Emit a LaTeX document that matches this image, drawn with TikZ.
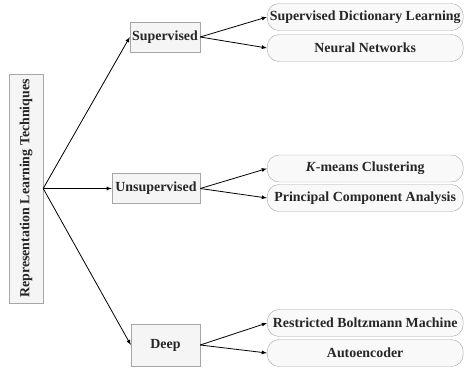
\documentclass[tikz,border=0pt]{standalone}
\usepackage{fontspec}
\setmainfont{Liberation Serif}
\usetikzlibrary{positioning,arrows.meta}
\tikzset{
	every picture/.style={
		>=latex
}}
\begin{document}
\begin{tikzpicture}[x=1pt,y=-1pt]
\tikzstyle{root}=[rectangle, rotate=90, draw=gray!70, fill=gray!8, minimum width=229pt, minimum height=34pt, inner sep=0pt, text=black!85, font=\fontsize{13.9}{16}\selectfont\bfseries]
\tikzstyle{cat}=[rectangle, draw=gray!70, fill=gray!8, minimum height=30pt, inner sep=1pt, text=black!85, font=\fontsize{13.9}{16}\selectfont\bfseries]
\tikzstyle{leaf}=[rectangle, rounded corners=12pt, draw=gray!70, fill=gray!5, minimum width=196pt, minimum height=27pt, inner sep=0pt, anchor=west, text=black!85, font=\fontsize{13.9}{16}\selectfont\bfseries]
\tikzstyle{connect}=[->, line width=0.8pt]
\useasboundingbox (0,0) rectangle (464,368);
\node[root] (rlt) at (26,188.5) {Representation Learning Techniques};
\node[cat, minimum width=70pt] (sup) at (165,37) {Supervised};
\node[cat, minimum width=88pt] (uns) at (156,188.5) {Unsupervised};
\node[cat, minimum width=69pt, minimum height=42pt] (deep) at (165.5,345) {Deep};
\node[leaf] (sdl) at (267,17) {Supervised Dictionary Learning};
\node[leaf] (nn) at (267,48) {Neural Networks};
\node[leaf] (km) at (267,168.5) {\textit{K}-means Clustering};
\node[leaf] (pca) at (267,198) {Principal Component Analysis};
\node[leaf] (rbm) at (267,323) {Restricted Boltzmann Machine};
\node[leaf] (ae) at (267,353) {Autoencoder};
\path (rlt.south) edge [connect] (sup.west)
(rlt.south) edge [connect] (uns.west)
(rlt.south) edge [connect] (deep.west);
\path (sup.east) edge [connect] (sdl.west)
(sup.east) edge [connect] (nn.west)
(uns.east) edge [connect] (km.west)
(uns.east) edge [connect] (pca.west)
(deep.east) edge [connect] (rbm.west)
(deep.east) edge [connect] (ae.west);
\end{tikzpicture}
\end{document}
